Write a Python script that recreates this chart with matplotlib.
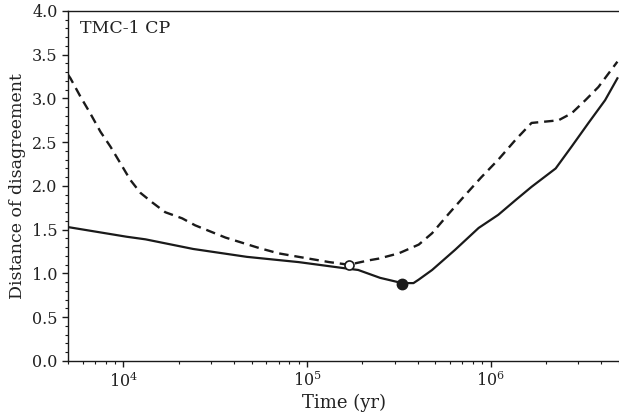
import matplotlib
matplotlib.use("Agg")
import matplotlib.pyplot as plt
from matplotlib.ticker import MultipleLocator, LogLocator, NullFormatter, FormatStrFormatter

plt.rcParams['font.family'] = ['DejaVu Serif']
plt.rcParams['mathtext.fontset'] = 'dejavuserif'

# Solid curve
solid_t = [5000, 1.04e4, 1.32e4, 2.4e4, 4.7e4, 9e4, 1.6e5, 1.9e5, 2.5e5, 3.3e5, 3.8e5,
           4.06e5, 4.8e5, 6.4e5, 8.6e5, 1.1e6, 1.37e6, 1.67e6, 2.26e6, 2.76e6,
           3.41e6, 4.2e6, 4.9e6]
solid_d = [1.53, 1.42, 1.39, 1.28, 1.19, 1.13, 1.06, 1.04, 0.95, 0.89, 0.89,
           0.93, 1.04, 1.27, 1.52, 1.67, 1.84, 1.99, 2.20, 2.45,
           2.72, 2.98, 3.23]

# Dashed curve
dash_t = [5000, 5150, 5840, 6600, 7500, 8500, 9630, 1.09e4, 1.24e4, 1.44e4, 1.69e4,
          2.09e4, 2.46e4, 3.6e4, 5.5e4, 7e4, 9e4, 1.32e5, 1.69e5, 2.17e5, 2.46e5,
          3.16e5, 4.06e5, 4.8e5, 5.9e5, 7.3e5, 8.9e5, 1.1e6, 1.37e6, 1.67e6,
          2.34e6, 2.76e6, 3.28e6, 3.86e6, 4.9e6]
dash_d = [3.27, 3.23, 3.02, 2.83, 2.62, 2.45, 2.26, 2.07, 1.92, 1.81, 1.70,
          1.63, 1.55, 1.41, 1.29, 1.23, 1.19, 1.13, 1.10, 1.15, 1.17,
          1.23, 1.33, 1.46, 1.68, 1.90, 2.10, 2.30, 2.53, 2.72,
          2.75, 2.83, 2.98, 3.13, 3.42]

best_solid = (3.3e5, 0.885)
best_dash = (1.69e5, 1.10)

fig = plt.figure(figsize=(6.19, 4.20), dpi=100)
ax = fig.add_axes([0.110, 0.1405, 0.890, 0.8335])

ax.plot(solid_t, solid_d, color='#1a1a1a', lw=1.6, solid_joinstyle='round')
ax.plot(dash_t, dash_d, color='#1a1a1a', lw=1.7, dashes=(4, 2.5))
ax.plot([best_solid[0]], [best_solid[1]], 'o', color='#1a1a1a', ms=7.5, zorder=5)
ax.plot([best_dash[0]], [best_dash[1]], 'o', mfc='white', mec='#1a1a1a', mew=1.2, ms=6.5, zorder=5)

ax.set_xscale('log')
ax.set_xlim(5000, 5e6)
ax.set_ylim(0, 4.0)
ax.yaxis.set_major_locator(MultipleLocator(0.5))
ax.yaxis.set_minor_locator(MultipleLocator(0.1))
ax.yaxis.set_major_formatter(FormatStrFormatter('%.1f'))
ax.xaxis.set_major_locator(LogLocator(base=10, numticks=10))
ax.xaxis.set_minor_locator(LogLocator(base=10, subs=range(2, 10), numticks=20))
ax.xaxis.set_minor_formatter(NullFormatter())

ax.spines['right'].set_visible(False)
for s in ['top', 'left', 'bottom']:
    ax.spines[s].set_linewidth(1.0)
    ax.spines[s].set_color('#1a1a1a')

ax.tick_params(which='major', direction='out', length=4, width=1.0, labelsize=11.5, color='#1a1a1a', labelcolor='#222222')
ax.tick_params(which='minor', direction='out', length=2.5, width=0.8, color='#1a1a1a')
ax.tick_params(axis='x', which='both', top=False)
ax.tick_params(axis='y', which='both', right=False)

ax.set_xlabel('Time (yr)', fontsize=13, labelpad=2, color='#222222')
ax.set_ylabel('Distance of disagreement', fontsize=12.5, labelpad=4, color='#222222')

ax.text(0.022, 0.975, 'TMC-1 CP', transform=ax.transAxes, ha='left', va='top', fontsize=12.5, color='#222222')

fig.savefig('out.png', dpi=100)
